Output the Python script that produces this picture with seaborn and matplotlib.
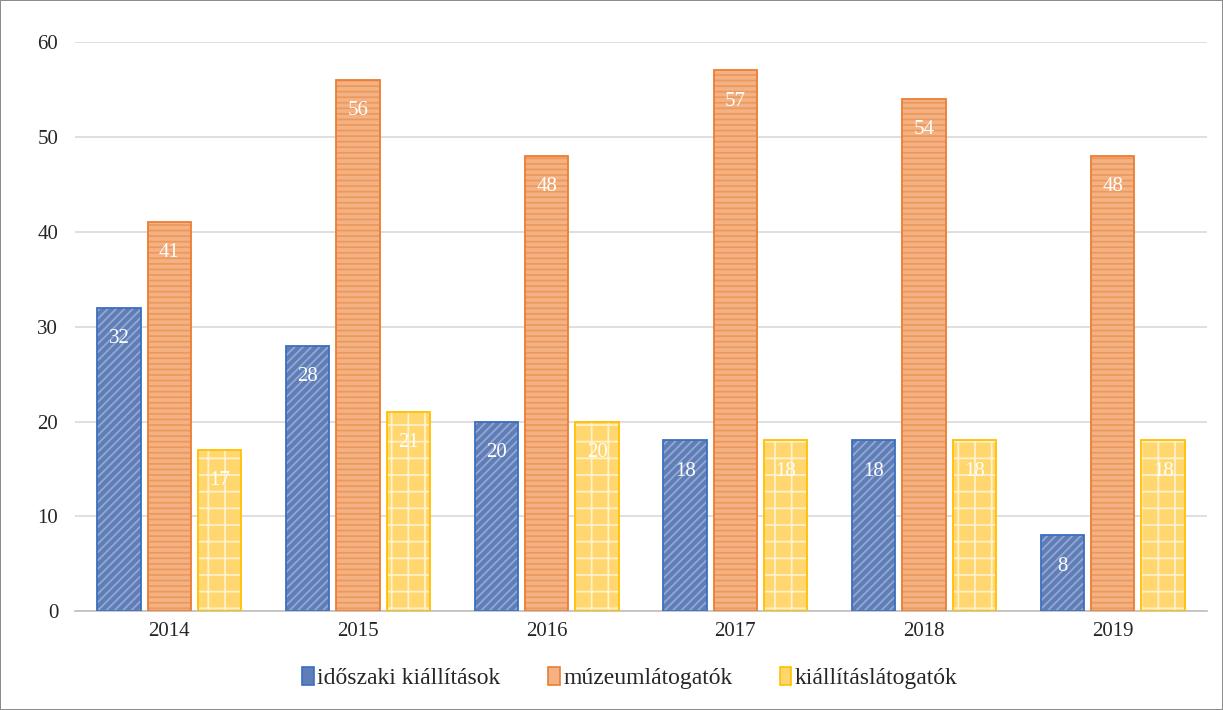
import pandas as pd
import matplotlib.pyplot as plt
import seaborn as sns
from matplotlib.patches import Patch, Rectangle

evek = ['2014', '2015', '2016', '2017', '2018', '2019']
idoszaki = [32, 28, 20, 18, 18, 8]
muzeum = [41, 56, 48, 57, 54, 48]
kiallitas = [17, 21, 20, 18, 18, 18]
sorozatok = ['időszaki kiállítások', 'múzeumlátogatók', 'kiállításlátogatók']

df = pd.DataFrame({
    'év': evek * 3,
    'érték': idoszaki + muzeum + kiallitas,
    'sorozat': [s for s in sorozatok for _ in evek],
})

# fill, hatch color, outline, hatch
stilus = {
    'időszaki kiállítások': ('#5F7DB6', '#93A9D2', '#3A6FC0', '////'),
    'múzeumlátogatók': ('#F4B183', '#EC9A5C', '#ED7D31', '---'),
    'kiállításlátogatók': ('#FFD76E', '#FFF1CC', '#FFC000', '+'),
}

sns.set_theme(style="white")
plt.rcParams['font.family'] = ['Liberation Serif', 'DejaVu Serif']
plt.rcParams['hatch.linewidth'] = 1.3

fig = plt.figure(figsize=(12.23, 7.10), dpi=100, linewidth=1.2, edgecolor='#8C8C8C')
ax = fig.add_axes([0.0613, 0.139, 0.9257, 0.802])

sns.barplot(data=df, x='év', y='érték', hue='sorozat', hue_order=sorozatok,
            palette=[stilus[s][0] for s in sorozatok], width=0.8, gap=0.14,
            saturation=1, legend=False, ax=ax, zorder=2)

for cont, s in zip(ax.containers, sorozatok):
    fill, hcol, edge, hatch = stilus[s]
    for p in cont.patches:
        p.set_facecolor(fill)
        p.set_edgecolor(hcol)
        p.set_linewidth(0)
        p.set_hatch(hatch)
        ax.add_patch(Rectangle(p.get_xy(), p.get_width(), p.get_height(),
                               fill=False, edgecolor=edge, linewidth=1.3, zorder=3))
    ax.bar_label(cont, padding=-29, color='white', fontsize=15, zorder=4)

ax.set_xlim(-0.5, 5.5)
ax.set_ylim(0, 60)
ax.set_yticks(range(0, 61, 10))
ax.yaxis.grid(True, color='#D9D9D9', linewidth=1.2, zorder=0)
ax.set_axisbelow(True)
for sp in ['top', 'right', 'left']:
    ax.spines[sp].set_visible(False)
ax.spines['bottom'].set_color('#BFBFBF')
ax.spines['bottom'].set_linewidth(1.2)
ax.tick_params(axis='both', length=0, labelsize=15, colors='#262626', pad=8)
ax.tick_params(axis='y', pad=12)
ax.set_xlabel('')
ax.set_ylabel('')

handles = [Patch(facecolor=stilus[s][0], edgecolor=stilus[s][2], linewidth=1.2, label=s)
           for s in sorozatok]
fig.legend(handles=handles, loc='lower center', bbox_to_anchor=(0.515, 0.0), ncol=3,
           frameon=False, fontsize=17, handlelength=0.5, handleheight=0.8,
           handletextpad=0.15, columnspacing=2.0)

fig.savefig('out.png', dpi=100)
